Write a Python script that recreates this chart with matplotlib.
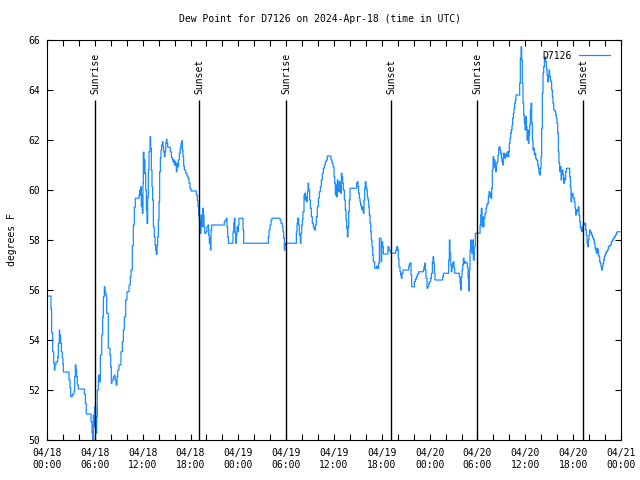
import matplotlib
matplotlib.use("Agg")
import matplotlib.pyplot as plt
import numpy as np

# hours since 04/18 00:00 UTC, dew point in degrees F
HOURS = [
    0.0, 0.42, 0.5, 0.58, 0.71, 0.84, 0.92, 1.0, 1.13, 1.34, 1.42, 1.55, 1.59, 1.67, 1.71, 1.8, 1.92, 2.0,
    2.05, 2.68, 2.76, 2.89, 2.97, 3.09, 3.22, 3.39, 3.47, 3.55, 3.64, 3.72, 3.81, 3.93, 4.64, 4.68, 4.81,
    4.93, 5.43, 5.52, 5.64, 5.73, 5.81, 5.94, 5.98, 6.1, 6.23, 6.31, 6.44, 6.52, 6.56, 6.69, 6.86, 6.98,
    7.07, 7.19, 7.28, 7.36, 7.48, 7.69, 7.9, 7.99, 8.07, 8.15, 8.32, 8.45, 8.53, 8.66, 8.78, 8.87, 9.03,
    9.28, 9.45, 9.58, 9.7, 9.87, 10.03, 10.29, 10.45, 10.54,
    10.7, 10.83, 10.95, 11.08, 11.46, 11.54, 11.62, 11.71, 11.75, 11.83, 11.92, 11.96, 12.04, 12.08, 12.17,
    12.21, 12.29, 12.38, 12.46, 12.54, 12.63, 12.71, 12.79, 12.92, 13.0, 13.09, 13.17, 13.25, 13.34, 13.46,
    13.55, 13.63, 13.71, 13.8, 13.88, 13.97, 14.05, 14.13, 14.22, 14.3, 14.38, 14.47, 14.55, 14.63, 14.72,
    14.8, 14.89, 14.97, 15.05, 15.14, 15.39, 15.47, 15.6, 15.72, 15.8, 15.89, 15.97, 16.06, 16.14, 16.22,
    16.31, 16.39, 16.47, 16.6, 16.72, 16.81, 16.89, 16.98, 17.06, 17.14, 17.23, 17.39, 17.56, 17.69, 17.81,
    17.94, 18.06, 18.65, 18.73, 18.86, 18.94, 19.02, 19.11, 19.19, 19.32, 19.44, 19.53, 19.61, 19.69, 19.78,
    19.94, 20.07, 20.2, 20.28, 20.36, 20.45, 20.49, 20.57, 20.66, 22.12, 22.24, 22.37, 22.5, 22.58, 22.66,
    22.75, 23.25, 23.33, 23.42, 23.5, 23.58, 23.67, 23.75, 23.83, 23.92, 24.0, 24.08, 24.5, 24.59, 24.67,
    27.68, 27.76, 27.85, 27.97, 28.1, 28.22, 29.1, 29.23, 29.35, 29.52, 29.6, 29.69, 29.77, 29.85, 29.94,
    31.19,
    31.28, 31.36, 31.44, 31.57, 31.65, 31.78, 31.86, 31.95, 32.03, 32.11, 32.24, 32.32, 32.4, 32.49, 32.57,
    32.66, 32.74, 32.82, 32.95, 33.03, 33.16, 33.28, 33.41, 33.53, 33.66, 33.78, 33.91, 34.04, 34.16, 34.29,
    34.41, 34.54, 34.66, 34.79, 34.91, 35.04, 35.16, 35.5, 35.62, 35.75, 35.88, 36.0, 36.09, 36.17, 36.25,
    36.33, 36.42, 36.5, 36.59, 36.67, 36.75, 36.84, 36.92, 37.0, 37.09, 37.17, 37.3, 37.42, 37.51, 37.59,
    37.67, 37.76, 37.84, 37.92, 38.01, 38.76, 38.84, 38.93, 39.01, 39.09, 39.18, 39.26, 39.34, 39.43, 39.51,
    39.59, 39.68, 39.76, 39.85, 39.93, 40.02, 40.1, 40.18, 40.26, 40.35, 40.43, 40.52, 40.6, 40.68, 40.77,
    40.85, 40.93, 41.1, 41.35, 41.48, 41.6, 41.69,
    41.77, 41.9, 41.98, 42.1, 42.19, 42.69, 42.77, 42.9, 43.03, 43.15, 43.65, 43.74, 43.86, 43.99, 44.07,
    44.15, 44.28, 44.36, 44.45, 44.53, 44.66, 45.24, 45.37, 45.45, 45.58, 45.66, 45.74, 45.99, 46.08, 46.2,
    46.33, 46.45, 46.62, 47.12, 47.21, 47.29, 47.37, 47.46, 47.54, 47.67, 47.75, 47.88, 48.0, 48.13, 48.21,
    48.34, 48.42, 48.5, 48.59, 48.67, 49.55, 49.63, 49.72, 50.3, 50.38, 50.47, 50.55, 50.64, 50.72, 50.8,
    50.89, 50.97, 51.05, 51.14, 51.64, 51.72, 51.81, 51.89, 51.97, 52.06, 52.14, 52.22, 52.31, 52.39, 52.56,
    52.73, 52.81, 52.89, 52.98, 53.06,
    53.14, 53.27, 53.39, 53.48, 53.6, 53.73, 54.23, 54.32, 54.4, 54.48, 54.57, 54.65, 54.73, 54.82, 54.94,
    55.07, 55.15, 55.28, 55.36, 55.44, 55.53, 55.61, 55.7, 55.78, 55.86, 55.95, 56.03, 56.11, 56.2, 56.28,
    56.36, 56.49, 56.57, 56.66, 56.74, 56.82, 56.91, 56.99, 57.07, 57.16, 57.24, 57.32, 57.41, 57.49, 57.58,
    57.66, 57.74, 57.83, 57.91, 57.99, 58.08, 58.16, 58.24, 58.33, 58.41, 58.5, 58.58, 58.66, 58.75, 58.83,
    59.21, 59.29, 59.37, 59.46, 59.54, 59.62, 59.71, 59.79, 59.88, 59.96, 60.04, 60.13, 60.21, 60.29, 60.38,
    60.46, 60.54, 60.63, 60.71, 60.8, 60.88, 60.96, 61.05, 61.13, 61.21, 61.3, 61.38, 61.46, 61.55, 61.63,
    61.72, 61.8, 61.88, 61.97, 62.05, 62.13, 62.22, 62.3, 62.39, 62.47, 62.55, 62.64, 62.72, 62.8, 62.89,
    62.97, 63.05, 63.14, 63.22, 63.3, 63.39, 63.47, 63.56, 63.64, 63.72, 63.81, 63.89, 63.97, 64.06, 64.14,
    64.22, 64.31, 64.39, 64.48, 64.56, 64.64, 64.73, 64.81, 64.89, 64.98, 65.06, 65.14, 65.48, 65.56, 65.65,
    65.73, 65.81, 65.9, 65.98, 66.06, 66.15, 66.23, 66.31, 66.4, 66.48, 66.57, 66.65, 66.73, 66.82, 66.9,
    66.98, 67.07, 67.15, 67.28, 67.4, 67.49, 67.57, 67.65, 67.74, 67.82, 67.91, 67.99, 68.07, 68.16, 68.24,
    68.32, 68.41, 68.49, 68.57, 68.66, 68.74, 68.83, 68.91, 68.99, 69.08, 69.16, 69.24, 69.33, 69.41, 69.49,
    69.58, 69.66, 69.74, 69.83, 69.91, 69.99, 70.08, 70.16, 70.29, 70.41, 70.54, 70.66, 70.79, 70.91, 71.04,
    71.17, 71.29, 71.42, 71.54, 71.71, 71.9,
]

DEWPT = [
    55.76, 55.76, 55.23, 54.29, 53.53, 53.07, 52.8, 53.0, 53.13, 53.31, 53.87, 54.4, 54.2, 54.13, 53.87, 53.53, 53.27, 53.04,
    52.72, 52.72, 52.4, 52.07, 51.73, 51.76, 51.84, 51.97, 52.53, 53.0, 52.8, 52.53, 52.2, 52.04, 52.04, 51.84, 51.47,
    51.04, 51.04, 50.73, 50.27, 49.9, 51.0, 50.53, 51.33, 50.27, 50.93, 52.0, 52.53, 52.6, 52.33, 53.4, 54.2, 54.93,
    55.73, 56.13, 55.93, 55.8, 55.07, 53.67, 53.4, 52.93, 52.27, 52.4, 52.53, 52.6, 52.4, 52.2, 52.53, 52.8, 53.0,
    53.53, 53.93, 54.4, 54.93, 55.6, 55.93, 56.2, 56.53, 56.8,
    57.76, 58.6, 59.31, 59.67, 59.67, 59.8, 60.0, 59.8, 60.13, 59.33, 59.8, 59.07, 60.27, 61.51, 60.67,
    61.2, 60.67, 60.0, 59.2, 58.67, 59.73, 60.8, 61.53, 62.13, 61.67, 60.8, 60.13, 59.6, 58.53, 58.13,
    57.8, 57.6, 57.43, 57.8, 58.13, 58.8, 59.53, 60.73, 61.27, 61.6, 61.8, 61.93, 61.73, 61.53, 61.33,
    61.53, 61.87, 62.03, 61.87, 61.71, 61.71, 61.53, 61.31, 61.23, 61.13, 61.2, 61.0, 61.13, 61.0, 60.73,
    61.07, 60.93, 61.2, 61.47, 61.67, 61.87, 61.97, 61.6, 61.33, 60.96, 60.8, 60.67, 60.56, 60.47, 60.27,
    60.07, 59.96, 59.96, 59.8, 59.6, 59.33, 59.0, 58.8, 58.27, 59.0, 58.53, 59.27, 59.0, 58.53, 58.27,
    58.33, 58.53, 58.6, 58.2, 57.87, 58.07, 57.6, 58.4, 58.6, 58.6, 58.73, 58.8, 58.87, 58.53, 58.13,
    57.87, 57.87, 58.33, 58.67, 58.87, 58.27, 57.87, 58.2, 58.53, 58.33, 58.6, 58.87, 58.87, 58.4, 57.87,
    57.87, 58.13, 58.4, 58.6, 58.8, 58.87, 58.87, 58.8, 58.67, 58.53, 58.33, 58.07, 57.6, 57.8, 57.87,
    57.87,
    58.33, 58.67, 58.87, 58.6, 58.2, 57.87, 58.27, 58.6, 58.8, 59.13, 59.8, 59.87, 59.6, 59.73, 59.53,
    59.93, 60.27, 60.0, 59.6, 59.27, 58.93, 58.67, 58.51, 58.4, 58.6, 58.93, 59.33, 59.67, 59.93, 60.13,
    60.4, 60.67, 60.87, 61.0, 61.13, 61.2, 61.36, 61.36, 61.2, 61.07, 60.93, 60.53, 60.27, 59.8, 60.2,
    59.73, 60.4, 60.0, 59.93, 60.33, 60.13, 59.87, 60.67, 60.53, 60.27, 60.0, 59.6, 59.2, 58.8, 58.47,
    58.13, 58.53, 59.13, 59.6, 60.07, 60.07, 60.27, 60.33, 60.13, 59.87, 59.67, 59.53, 59.4, 59.27, 59.2,
    59.33, 59.07, 59.6, 60.07, 60.33, 60.13, 60.0, 59.73, 59.6, 59.33, 59.0, 58.67, 58.33, 58.0, 57.73,
    57.4, 57.13, 56.87, 56.96, 56.87, 57.07, 58.07,
    58.07, 57.13, 57.93, 57.73, 57.44, 57.44, 57.73, 57.6, 57.53, 57.47, 57.47, 57.6, 57.73, 57.6, 57.27,
    56.93, 56.73, 56.6, 56.47, 56.67, 56.8, 56.8, 56.93, 57.04, 57.09, 56.6, 56.13, 56.13, 56.33, 56.43,
    56.53, 56.63, 56.73, 56.73, 56.8, 56.93, 57.07, 56.8, 56.47, 56.07, 56.13, 56.27, 56.33, 56.47, 56.67,
    57.13, 57.33, 57.07, 56.67, 56.4, 56.4, 56.53, 56.67, 56.67, 57.2, 58.0, 57.47, 57.0, 56.73, 56.93,
    57.07, 57.13, 56.87, 56.67, 56.67, 56.53, 56.27, 56.0, 56.53, 56.8, 57.0, 57.27, 57.07, 57.13, 57.07,
    56.93, 56.47, 55.97, 56.8, 57.6,
    58.0, 57.47, 58.0, 57.2, 57.73, 58.27, 58.27, 58.6, 59.0, 59.27, 58.53, 58.93, 58.53, 58.87, 59.07,
    59.27, 59.4, 59.47, 59.73, 59.93, 59.73, 59.87, 59.67, 60.07, 60.8, 61.33, 60.93, 61.2, 60.87, 60.73,
    61.07, 61.13, 61.4, 61.67, 61.73, 61.6, 61.47, 61.27, 61.13, 61.0, 61.47, 61.47, 61.27, 61.4, 61.33,
    61.47, 61.53, 61.33, 61.53, 61.87, 62.07, 62.27, 62.4, 62.6, 62.87, 63.07, 63.27, 63.47, 63.6, 63.8,
    63.8, 64.27, 65.27, 65.73, 65.2, 64.27, 63.47, 63.0, 62.67, 62.4, 62.93, 62.53, 62.0, 62.4, 61.87,
    62.2, 62.6, 63.2, 63.47, 62.67, 62.0, 61.6, 61.67, 61.4, 61.47, 61.27, 61.2, 61.2, 61.0, 60.87,
    60.67, 60.6, 60.87, 61.33, 62.47, 63.87, 64.67, 64.93, 65.2, 65.33, 65.13, 64.87, 64.6, 64.33, 64.53,
    64.8, 64.53, 64.4, 64.33, 64.0, 63.73, 63.47, 63.2, 63.2, 63.13, 63.0, 62.87, 62.67, 62.27, 61.53,
    61.07, 60.73, 60.93, 60.4, 60.67, 60.8, 60.6, 60.27, 60.47, 60.4, 60.73, 60.87, 60.87, 60.53, 60.13,
    59.53, 59.8, 59.87, 59.73, 59.67, 59.53, 59.27, 59.0, 59.2, 59.13, 59.2, 59.33, 59.0, 58.73, 58.53,
    58.4, 58.33, 58.53, 58.67, 58.6, 58.67, 58.4, 58.2, 57.87, 57.73, 58.0, 58.2, 58.4, 58.33, 58.27,
    58.2, 58.13, 58.07, 58.0, 57.87, 57.67, 57.6, 57.47, 57.67, 57.6, 57.4, 57.33, 57.13, 57.07, 56.93,
    56.8, 56.93, 57.07, 57.2, 57.33, 57.4, 57.47, 57.53, 57.6, 57.73, 57.76, 57.8, 57.93, 58.0, 58.07,
    58.13, 58.2, 58.29, 58.33, 58.33, 58.33,
]

EVENT_NAMES = ["Sunrise", "Sunset", "Sunrise", "Sunset", "Sunrise", "Sunset"]
EVENT_HOURS = [6.02, 19.07, 30.0, 43.16, 53.95, 67.25]

XTICKS = [0, 6, 12, 18, 24, 30, 36, 42, 48, 54, 60, 66, 72]
XTICK_LABELS = ["04/18\n00:00", "04/18\n06:00", "04/18\n12:00", "04/18\n18:00",
                "04/19\n00:00", "04/19\n06:00", "04/19\n12:00", "04/19\n18:00",
                "04/20\n00:00", "04/20\n06:00", "04/20\n12:00", "04/20\n18:00",
                "04/21\n00:00"]

plt.rcParams["font.family"] = "DejaVu Sans Mono"
plt.rcParams["font.size"] = 7

fig = plt.figure(figsize=(6.4, 4.8), dpi=100)
ax = fig.add_axes([47 / 640, 40 / 480, 574 / 640, 400 / 480])

# gnuplot-ish stepped trace
ax.plot(HOURS, DEWPT, color="#1a8cff", lw=0.9, label="D7126",
        drawstyle="steps-post")

# sunrise / sunset markers
for name, h in zip(EVENT_NAMES, EVENT_HOURS):
    ax.vlines(h, 50, 63.6, color="black", lw=1.0)
    ax.text(h, 63.85, name, rotation=90, ha="center", va="bottom", fontsize=7)

ax.set_xlim(0, 72)
ax.set_ylim(50, 66)
ax.set_xticks(XTICKS)
ax.set_xticklabels(XTICK_LABELS)
ax.set_xticks(np.arange(0, 73, 2), minor=True)
ax.set_yticks(np.arange(50, 67, 2))

ax.tick_params(which="both", direction="in", top=True, right=True,
               length=4, width=0.8, colors="black")
ax.tick_params(axis="x", pad=6)
ax.tick_params(axis="y", pad=5)
for s in ax.spines.values():
    s.set_linewidth(0.8)

ax.set_ylabel("degrees F", labelpad=8)
fig.text(0.5, 1 - 19 / 480, "Dew Point for D7126 on 2024-Apr-18 (time in UTC)",
         ha="center", va="center", fontsize=7)

ax.legend(loc="upper right", frameon=False, markerfirst=False,
          handlelength=3.2, borderaxespad=0.7, fontsize=7)

fig.savefig("out.png", dpi=100)
